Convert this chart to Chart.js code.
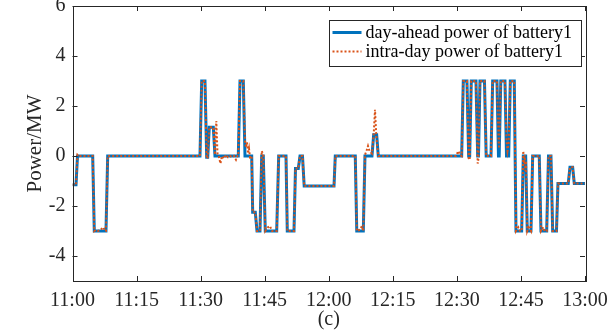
<!DOCTYPE html>
<html>
<head>
<meta charset="utf-8">
<script src="https://cdn.jsdelivr.net/npm/chart.js@4.4.1/dist/chart.umd.min.js"></script>
<style>
  html, body { margin: 0; padding: 0; background: #fff; }
  #wrap { width: 607px; height: 332px; }
</style>
</head>
<body>
<div id="wrap"><canvas id="powerChart" width="607" height="332"></canvas></div>
<script>
// minutes after 11:00 and power (MW), day-ahead schedule of battery1
var dayAheadMin = [0, 0.82, 1.17, 4.73, 5.10, 7.84, 8.24, 29.85, 30.25, 31.02, 31.42, 31.66, 32.03, 32.97, 33.36,
    38.82, 39.22, 39.99, 40.39, 41.96, 42.19, 42.80, 43.20, 43.90, 44.30, 44.67, 45.14, 47.81, 48.28, 49.99,
    50.29, 51.86, 52.21, 52.87, 53.27, 53.85, 54.25, 61.23, 61.53, 66.21, 66.56, 68.09, 68.48, 70.12, 70.52,
    71.22, 71.60, 91.12, 91.50, 92.36, 92.76, 93.00, 93.37, 94.47, 94.87, 95.06, 95.41, 96.46, 96.86, 97.99,
    98.38, 99.39, 99.74, 99.91, 100.28, 101.26, 101.62, 102.13, 102.51, 103.44, 103.84, 105.17, 105.55, 106.11,
    106.48, 107.35, 107.75, 109.29, 109.69, 111.03, 111.45, 112.03, 112.43, 113.32, 113.67, 116.08, 116.48,
    117.11, 117.49, 120];
var dayAheadMW = [-1.15, -1.15, 0, 0, -3, -3, 0, 0, 3, 3, -0.05, -0.05, 1.15, 1.15, 0,
    0, 3, 3, 0, 0, -2.25, -2.25, -3, -3, 0, 0, -3, -3, 0, 0,
    -3, -3, -0.5, -0.5, 0, 0, -1.2, -1.2, 0, 0, -3, -3, 0, 0, 0.85,
    0.85, 0, 0, 3, 3, 0, 0, 3, 3, 0, 0, 3, 3, 0, 0,
    3, 3, 0, 0, 3, 3, 0, 0, 3, 3, -3, -3, 0, 0,
    -3, -3, 0, 0, -3, -3, 0, 0, -3, -3, -1.1, -1.1, -0.45,
    -0.45, -1.1, -1.1];

// intra-day correction of battery1
var intraDayMin = [0, 0.82, 1.17, 1.52, 4.73, 5.10, 5.50, 5.97, 6.44, 6.91, 7.26, 7.61, 7.84, 8.24, 29.85,
    30.25, 31.02, 31.42, 31.66, 32.03, 32.97, 33.36, 33.67, 33.95, 34.30, 34.65, 35.00, 35.47, 35.94, 36.41,
    36.88, 37.35, 37.81, 38.28, 38.63, 38.82, 39.22, 39.99, 40.39, 40.62, 40.86, 41.09, 41.33, 41.56, 41.96,
    42.19, 42.80, 43.20, 43.90, 44.30, 44.67, 45.14, 45.77, 46.24, 46.71, 47.81, 48.28, 49.99, 50.29, 51.86,
    52.21, 52.87, 53.27, 53.85, 54.25, 61.23, 61.53, 66.21, 66.56, 67.31, 67.78, 68.09, 68.48, 68.84, 69.19,
    69.54, 70.12, 70.52, 70.83, 71.11, 71.60, 89.79, 90.33, 90.73, 91.12, 91.50, 92.36, 92.76, 93.00, 93.37,
    94.47, 94.87, 95.06, 95.41, 96.46, 96.86, 97.99, 98.38, 99.39, 99.74, 99.91, 100.28, 101.26, 101.62, 101.85,
    102.13, 102.51, 103.44, 103.84, 104.38, 104.78, 105.17, 105.55, 105.71, 105.88, 106.02, 106.18, 106.48,
    106.81, 107.35, 107.75, 109.29, 109.69, 110.23, 110.51, 111.03, 111.45, 112.03, 112.43, 113.32, 113.67,
    116.08, 116.48, 117.11, 117.49, 120];
var intraDayMW = [-1.15, -1.15, 0.05, 0, 0, -3, -2.95, -3, -2.97, -2.9, -2.85, -3, -3, 0, 0,
    3, 3, -0.1, -0.05, 1.15, 1.15, 0.05, 1.4, 0.1, -0.05, -0.3, 0, -0.1, 0.05, -0.05,
    0, -0.05, 0, -0.15, 0, 0, 3, 3, 0.6, 0.35, 0.55, 0.1, 0.3, -0.05, 0,
    -2.25, -2.25, -3, -3, 0.2, 0.05, -3, -2.85, -2.8, -3, -3, 0, 0, -3, -3,
    -0.5, -0.5, 0, 0, -1.2, -1.2, 0, 0, -3, -2.95, -2.8, -3, 0.05, 0.2, 0.4,
    0.2, 0.1, 0.85, 1.85, 0.85, 0, 0, 0.2, 0.05, 0, 3, 3, -0.1, -0.15, 3,
    3, -0.3, -0.1, 3, 3, 0, 0, 3, 3, 0.6, 0.3, 3, 3, 0.6, 0.2,
    0.5, 3, 3, -3, -2.85, -3, -3, 0.2, -0.3, 0.05, -0.6, -0.2, -3,
    -2.85, -3, 0, 0, -3, -2.85, -3, -3, 0, 0, -3, -3, -1.1,
    -1.1, -0.45, -0.45, -1.1, -1.1];

var xTickMin = [0, 15, 30, 45, 60, 75, 90, 105, 120];
var xTickLabels = ['11:00', '11:15', '11:30', '11:45', '12:00', '12:15', '12:30', '12:45', '13:00'];
var yTicks = [-4, -2, 0, 2, 4, 6];

var serif = "'Liberation Serif', 'Times New Roman', serif";
var axisColor = '#262626';

function toPoints(xs, ys) {
    return xs.map(function (x, i) { return { x: x, y: ys[i] }; });
}

// matlab style box with inward ticks on all four sides, plus the legend
var boxPlugin = {
    id: 'boxPlugin',
    afterDraw: function (chart) {
        var c = chart.ctx, a = chart.chartArea;
        var xs = chart.scales.x, ys = chart.scales.y;
        var tl = 5;
        c.save();
        c.strokeStyle = axisColor;
        c.lineWidth = 1;
        c.strokeRect(Math.round(a.left) + 0.5, Math.round(a.top) + 0.5,
            Math.round(a.right - a.left), Math.round(a.bottom - a.top));
        c.beginPath();
        xTickMin.forEach(function (v) {
            var px = Math.round(xs.getPixelForValue(v)) + 0.5;
            c.moveTo(px, a.bottom); c.lineTo(px, a.bottom - tl);
            c.moveTo(px, a.top); c.lineTo(px, a.top + tl);
        });
        yTicks.forEach(function (v) {
            var py = Math.round(ys.getPixelForValue(v)) + 0.5;
            c.moveTo(a.left, py); c.lineTo(a.left + tl, py);
            c.moveTo(a.right, py); c.lineTo(a.right - tl, py);
        });
        c.stroke();

        // legend
        var lx = 329.5, ly = 20.5, lw = 252, lh = 46;
        c.fillStyle = '#fff';
        c.fillRect(lx, ly, lw, lh);
        c.strokeStyle = axisColor;
        c.strokeRect(lx, ly, lw, lh);
        c.font = '18px ' + serif;
        c.textBaseline = 'middle';
        c.textAlign = 'left';
        var rows = [32.5, 51.5];
        chart.data.datasets.forEach(function (ds, i) {
            c.beginPath();
            c.strokeStyle = ds.borderColor;
            c.lineWidth = ds.borderWidth;
            c.setLineDash(ds.borderDash || []);
            c.moveTo(lx + 3, rows[i]);
            c.lineTo(lx + 32, rows[i]);
            c.stroke();
            c.setLineDash([]);
            c.fillStyle = '#000';
            c.fillText(ds.label, lx + 36, rows[i] + 1);
        });
        c.restore();
    }
};

var ctx = document.getElementById('powerChart').getContext('2d');
var chart = new Chart(ctx, {
    type: 'line',
    data: {
        datasets: [{
            label: 'day-ahead power of battery1',
            data: toPoints(dayAheadMin, dayAheadMW),
            borderColor: '#0072BD',
            borderWidth: 3,
            order: 1
        }, {
            label: 'intra-day power of battery1',
            data: toPoints(intraDayMin, intraDayMW),
            borderColor: '#D95319',
            borderWidth: 2,
            borderDash: [2, 2],
            order: 0
        }]
    },
    options: {
        responsive: false,
        animation: false,
        devicePixelRatio: 1,
        layout: { padding: { left: 23, right: 22, top: 6, bottom: 0 } },
        elements: { point: { radius: 0 }, line: { tension: 0, fill: false } },
        plugins: { legend: { display: false }, tooltip: { enabled: false } },
        scales: {
            x: {
                type: 'linear',
                min: 0,
                max: 120,
                grid: { display: false, drawTicks: false },
                border: { display: false },
                afterBuildTicks: function (s) { s.ticks = xTickMin.map(function (v) { return { value: v }; }); },
                afterFit: function (s) {
                    s.height = 51;
                    s.paddingLeft = 0; s.paddingRight = 0;
                },
                ticks: {
                    autoSkip: false,
                    maxRotation: 0,
                    padding: 8,
                    color: axisColor,
                    font: { family: serif, size: 20 },
                    callback: function (v, i) { return xTickLabels[i]; }
                },
                title: {
                    display: true,
                    text: '(c)',
                    color: axisColor,
                    font: { family: serif, size: 20 },
                    padding: { top: 0, bottom: 0 }
                }
            },
            y: {
                min: -5,
                max: 6,
                grid: { display: false, drawTicks: false },
                border: { display: false },
                afterBuildTicks: function (s) { s.ticks = yTicks.map(function (v) { return { value: v }; }); },
                afterFit: function (s) {
                    s.width = 49.5;
                    s.paddingTop = 0; s.paddingBottom = 0;
                },
                ticks: {
                    padding: 7,
                    color: axisColor,
                    font: { family: serif, size: 20 }
                },
                title: {
                    display: true,
                    text: 'Power/MW',
                    color: axisColor,
                    font: { family: serif, size: 21 },
                    padding: { top: 0, bottom: 0 }
                }
            }
        }
    },
    plugins: [boxPlugin]
});
</script>
</body>
</html>
